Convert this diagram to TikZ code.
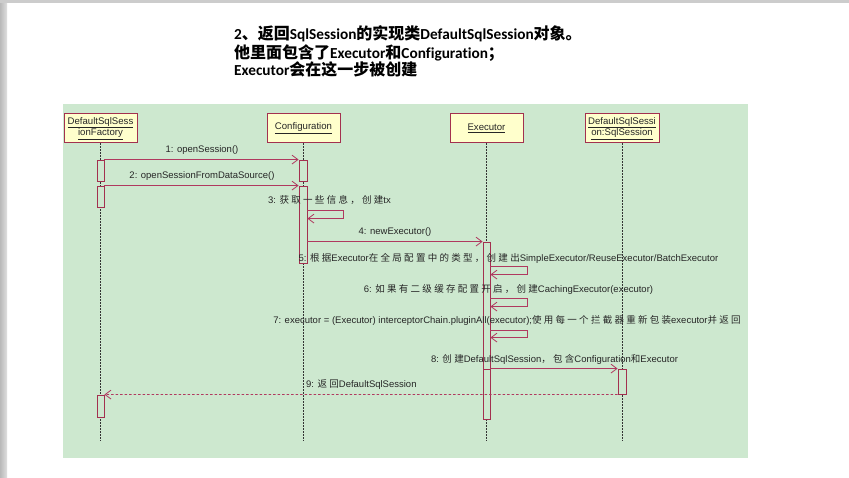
\documentclass[tikz,border=0pt]{standalone}
\usepackage{fontspec}
\setmainfont{Liberation Sans}
\newfontfamily\cjkfont{Noto Sans CJK SC}[LetterSpace=24]
\newfontfamily\cjktfont{Noto Sans CJK SC}
\newfontfamily\calfont{Carlito}[Ligatures=NoCommon]
\newcommand\zhc[1]{{\cjkfont #1}}
\newcommand\TLat[1]{{\fontsize{15.3}{18}\calfont\bfseries #1}}
\newcommand\TCjk[1]{{\fontsize{16}{18}\cjktfont\bfseries #1}}
\usetikzlibrary{arrows.meta}
\definecolor{bggreen}{HTML}{CDE8CF}
\definecolor{boxfill}{HTML}{FFFFCC}
\definecolor{boxline}{HTML}{A3304F}
\definecolor{msgline}{HTML}{B0395F}
\definecolor{lifeline}{HTML}{333333}
\tikzset{
  head/.style={draw=boxline, line width=1pt, fill=boxfill, align=center, inner sep=1pt,
    font=\fontsize{9.6}{11.5}\selectfont, text=black!85},
  act/.style={draw=boxline, line width=0.8pt, fill=bggreen, minimum width=7pt, inner sep=0pt},
  life/.style={draw=lifeline, line width=0.8pt, dash pattern=on 1.2pt off 1.8pt},
  msg/.style={draw=msgline, line width=0.8pt, -{Straight Barb[length=6pt,width=9pt]}},
  ret/.style={msg, dash pattern=on 2.5pt off 2pt},
  lbl/.style={font=\fontsize{9.5}{11}\selectfont, text=black!85, inner sep=0pt},
  ttl/.style={anchor=base west, inner sep=0pt},
}
\begin{document}
\begin{tikzpicture}[x=1pt,y=-1pt]
\useasboundingbox (0,0) rectangle (849,478);
\fill[white] (0,0) rectangle (849,478);
\shade[left color=gray!55, right color=gray!25] (0,0) rectangle (7,478);
\fill[gray!40] (0,0) rectangle (849,3);
\fill[bggreen] (63,104) rectangle (748,458);

% title
\node[ttl] (t1) at (234,40) {\TLat{2}\TCjk{、返回}\TLat{SqlSession}\TCjk{的实现类}\TLat{DefaultSqlSession}\TCjk{对象。}};
\node[ttl] (t2) at (234,58.5) {\TCjk{他里面包含了}\TLat{Executor}\TCjk{和}\TLat{Configuration}\TCjk{；}};
\node[ttl] (t3) at (234,76) {\TLat{Executor}\TCjk{会在这一步被创建}};

% heads
\node[head, minimum width=73pt, minimum height=29pt] (dssf) at (100.5,128.5) {\underline{DefaultSqlSess}\\\underline{ionFactory}};
\node[head, minimum width=73pt, minimum height=29pt] (conf) at (303.5,128.5) {\underline{Configuration}};
\node[head, minimum width=73pt, minimum height=29pt] (exec) at (486.5,128.5) {\underline{Executor}};
\node[head, minimum width=74pt, minimum height=29pt] (sess) at (622,128.5) {\underline{DefaultSqlSessi}\\\underline{on:SqlSession}};

% lifeline ends
\coordinate (dssfE) at (100.5,441);
\coordinate (confE) at (303.5,441);
\coordinate (execE) at (486.5,441);
\coordinate (sessE) at (622,441);
\draw[life] (dssf.south) -- (dssfE);
\draw[life] (conf.south) -- (confE);
\draw[life] (exec.south) -- (execE);
\draw[life] (sess.south) -- (sessE);

% activations
\node[act, minimum height=21pt] (a1) at (100.5,170.5) {};
\node[act, minimum height=21pt] (a2) at (100.5,196.5) {};
\node[act, minimum height=22pt] (a3) at (100.5,406) {};
\node[act, minimum width=8pt, minimum height=21pt] (c1) at (303,170.5) {};
\node[act, minimum width=8pt, minimum height=77pt] (c2) at (303,224.5) {};
\node[act, minimum height=177pt] (e1) at (486.5,330.5) {};
\node[act, minimum height=50pt] (e2) at (486.5,394) {};
\node[act, minimum width=8pt, minimum height=25pt] (s1) at (622,381.5) {};

% messages
\draw[msg] (a1.north east) -- (c1.north west);
\node[lbl] (l1) at (202,150) {1: openSession()};
\draw[msg] (a2.north east) -- (c2.north west);
\node[lbl] (l2) at (202,176) {2: openSession\-FromDataSource()};

\path (c2.north east) ++(0,25) coordinate (m3a) ++(0,8) coordinate (m3b);
\draw[msg] (m3a) -- ++(36,0) |- (m3b);
\node[lbl, anchor=west] (l3) at (268,200) {3: \zhc{获取一些信息，创建}tx};

\draw[msg] (c2.east |- e1.north) -- (e1.north west);
\node[lbl] (l4) at (395,232) {4: newExecutor()};

\path (e1.north east) ++(0,25) coordinate (m5a) ++(0,8) coordinate (m5b);
\draw[msg] (m5a) -- ++(37,0) |- (m5b);
\node[lbl] (l5) at (508.5,258) {5: \zhc{根据}Executor\zhc{在全局配置中的类型，创建出}SimpleExecutor/ReuseExecutor/BatchExecutor};

\path (e1.north east) ++(0,57) coordinate (m6a) ++(0,8) coordinate (m6b);
\draw[msg] (m6a) -- ++(37,0) |- (m6b);
\node[lbl] (l6) at (508.5,289) {6: \zhc{如果有二级缓存配置开启，创建}CachingExecutor(executor)};

\path (e1.north east) ++(0,89) coordinate (m7a) ++(0,7) coordinate (m7b);
\draw[msg] (m7a) -- ++(37,0) |- (m7b);
\node[lbl] (l7) at (507,320) {7: executor = (Executor) interceptorChain.pluginAll(executor);\zhc{使用每一个拦截器重新包装}executor\zhc{并返回}};

\draw[msg] (e2.north east) -- (s1.north west);
\node[lbl] (l8) at (554.5,359) {8: \zhc{创建}DefaultSqlSession\zhc{，包含}Configuration\zhc{和}Executor};

\draw[ret] (s1.south west) -- (a3.north east);
\node[lbl, anchor=west] (l9) at (306,385) {9: \zhc{返回}DefaultSqlSession};
\end{tikzpicture}
\end{document}
